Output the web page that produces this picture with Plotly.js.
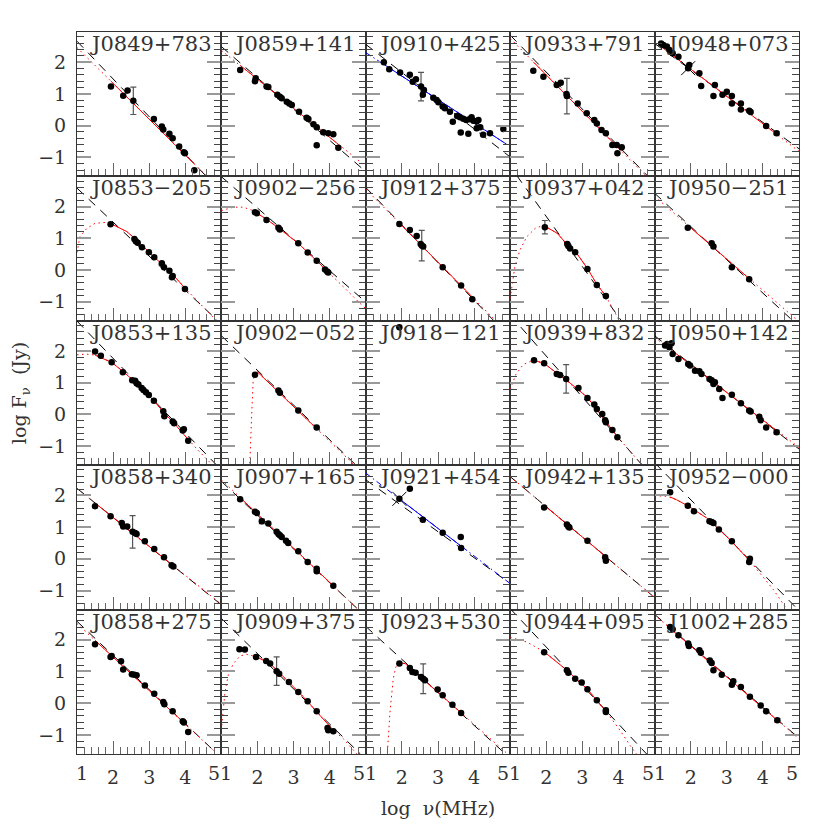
<!DOCTYPE html>
<html>
<head>
<meta charset="utf-8">
<script src="https://cdn.plot.ly/plotly-3.0.1.min.js"></script>
<style>
body{margin:0;background:#fff}
#chart{width:830px;height:830px}
</style>
</head>
<body>
<div id="chart"></div>
<script>
// panel names, row by row
var names = ["J0849+783","J0859+141","J0910+425","J0933+791","J0948+073",
  "J0853\u2212205","J0902\u2212256","J0912+375","J0937+042","J0950\u2212251",
  "J0853+135","J0902\u2212052","J0918\u2212121","J0939+832","J0950+142",
  "J0858+340","J0907+165","J0921+454","J0942+135","J0952\u2212000",
  "J0858+275","J0909+375","J0923+530","J0944+095","J1002+285"];

// measured points, log nu (MHz) and log F (Jy)
var ptX = [
  [1.94,2.28,2.40,2.56,3.13,3.35,3.39,3.56,3.65,3.83,3.96,3.99,4.25],
  [1.52,1.93,1.95,2.25,2.30,2.55,2.62,2.67,2.81,2.88,2.95,3.15,3.36,3.41,3.55,3.64,3.64,3.82,3.96,4.10,4.24],
  [1.50,1.65,1.95,2.22,2.30,2.39,2.53,2.61,2.58,2.87,2.96,3.01,3.13,3.19,3.33,3.41,3.53,3.61,3.70,3.78,3.87,3.93,3.98,4.07,4.12,4.07,3.63,3.84,4.25,4.44,4.81,4.17],
  [1.64,1.92,2.29,2.40,2.57,2.56,2.87,3.12,3.33,3.40,3.53,3.65,3.83,3.95,4.09,3.97],
  [1.18,1.24,1.34,1.41,1.50,1.66,1.93,1.96,2.24,2.29,2.67,2.63,2.88,3.00,3.14,3.14,3.39,3.39,3.62,3.66,4.09,4.38],
  [1.93,2.59,2.63,2.68,2.80,2.99,3.14,3.35,3.41,3.56,3.65,3.63,3.99],
  [1.93,1.98,2.25,2.58,2.62,3.13,3.39,3.64,3.87,3.93,3.96],
  [1.93,2.22,2.41,2.52,2.59,2.55,3.13,3.64,3.95],
  [1.96,2.58,2.61,2.66,2.80,3.14,3.40,3.65],
  [1.92,2.58,2.63,3.14,3.62],
  [1.50,1.66,1.96,2.27,2.53,2.61,2.65,2.70,2.79,2.84,2.91,2.99,3.13,3.39,3.42,3.65,3.69,3.93,3.96,4.08],
  [1.93,2.58,2.62,3.13,3.64],
  [1.93],
  [1.66,1.94,2.29,2.38,2.55,2.89,3.14,3.33,3.40,3.55,3.63,3.65,3.83,3.97],
  [1.29,1.35,1.47,1.41,1.50,1.66,1.93,1.98,2.12,2.24,2.30,2.52,2.58,2.63,2.67,2.79,2.88,3.14,3.39,3.62,3.66,3.90,3.94,4.09,4.38],
  [1.50,1.93,2.24,2.28,2.39,2.54,2.61,2.65,2.88,3.14,3.41,3.62,3.67],
  [1.52,1.93,1.98,2.12,2.30,2.53,2.58,2.62,2.67,2.79,2.85,3.13,3.39,3.64,3.64,4.10],
  [1.93,2.22,2.58,3.13,3.63,3.64],
  [1.94,2.57,2.61,2.64,3.14,3.63,3.65],
  [1.43,1.92,2.09,2.52,2.58,2.63,2.78,3.14,3.64,3.62],
  [1.50,1.93,1.96,2.22,2.28,2.52,2.59,2.65,2.88,3.14,3.39,3.42,3.65,3.93,3.96,4.08],
  [1.50,1.65,1.96,2.24,2.35,2.53,2.60,2.87,3.13,3.39,3.64,3.94,3.96,4.10],
  [1.93,2.22,2.29,2.38,2.53,2.59,2.64,2.99,3.13,3.40,3.64],
  [1.94,2.57,2.61,2.80,2.98,3.14,3.40,3.65,3.65],
  [1.43,1.50,1.66,1.93,1.95,2.24,2.28,2.53,2.58,2.63,2.86,3.14,3.18,3.39,3.64,3.94,4.09,4.40]
];
var ptY = [
  [1.23,0.94,1.11,0.78,0.21,-0.03,-0.12,-0.26,-0.40,-0.66,-0.84,-0.87,-1.41],
  [1.75,1.40,1.49,1.23,1.22,0.97,0.91,0.86,0.75,0.70,0.65,0.44,0.25,0.21,0.04,-0.05,-0.62,-0.21,-0.24,-0.27,-0.70],
  [2.00,1.78,1.67,1.60,1.38,1.46,1.23,1.12,0.97,0.88,0.81,0.74,0.60,0.55,0.44,0.12,0.30,0.26,0.22,0.18,0.20,0.26,0.15,0.13,0.18,-0.08,-0.22,-0.26,-0.29,-0.24,-0.11,-0.05],
  [1.73,1.54,1.28,1.35,0.93,1.00,0.70,0.39,0.18,0.07,-0.14,-0.24,-0.61,-0.61,-0.68,-0.87],
  [2.59,2.54,2.49,2.38,2.28,2.17,1.81,1.91,1.65,1.25,1.28,0.93,0.97,1.07,0.93,0.70,0.70,0.51,0.47,0.43,-0.01,-0.24],
  [1.44,0.98,0.91,0.86,0.72,0.56,0.40,0.21,0.09,-0.02,-0.19,-0.23,-0.60],
  [1.82,1.79,1.58,1.33,1.28,0.84,0.55,0.29,0.02,-0.05,-0.08],
  [1.45,1.26,1.07,0.82,0.74,0.77,0.09,-0.49,-0.92],
  [1.35,0.82,0.76,0.68,0.56,0.03,-0.47,-0.82],
  [1.33,0.84,0.74,0.09,-0.29],
  [1.98,1.85,1.64,1.33,1.08,1.06,0.98,0.94,0.83,0.77,0.70,0.61,0.43,0.10,-0.06,-0.22,-0.28,-0.51,-0.47,-0.83],
  [1.25,0.75,0.68,0.12,-0.41],
  [2.75],
  [1.71,1.61,1.27,1.24,1.12,0.83,0.52,0.31,0.17,0.01,-0.18,-0.25,-0.49,-0.72],
  [2.17,2.22,2.24,2.12,1.90,1.75,1.59,1.54,1.38,1.36,1.27,1.12,1.08,0.96,1.01,0.80,0.52,0.62,0.35,0.12,0.09,-0.07,-0.18,-0.41,-0.56],
  [1.66,1.34,1.13,1.02,1.02,0.85,0.81,0.78,0.55,0.31,0.05,-0.20,-0.24],
  [1.88,1.48,1.44,1.18,1.11,0.85,0.78,0.74,0.69,0.57,0.50,0.24,-0.10,-0.31,-0.39,-0.85],
  [1.89,2.21,1.23,0.82,0.69,0.34],
  [1.62,1.08,1.02,0.99,0.57,0.05,-0.06],
  [2.10,1.67,1.50,1.18,1.16,1.13,0.92,0.55,0.00,-0.10],
  [1.86,1.46,1.49,1.32,1.06,0.91,0.90,0.88,0.56,0.30,0.04,-0.03,-0.25,-0.57,-0.61,-0.91],
  [1.70,1.69,1.46,1.33,1.25,1.01,0.93,0.67,0.35,0.06,-0.25,-0.78,-0.85,-0.88],
  [1.25,1.11,0.98,0.96,0.83,0.77,0.72,0.43,0.25,-0.05,-0.31],
  [1.61,1.04,0.96,0.77,0.65,0.44,0.09,-0.22,-0.28],
  [2.40,2.33,2.14,1.88,1.80,1.67,1.59,1.35,1.27,1.04,0.90,0.58,0.69,0.51,0.20,-0.07,-0.25,-0.54]
];

// error bars: which point, and its half-size
var errIdx = [[3],[],[6],[4],[20,21],[],[],[5],[0],[],[],[],[],[4],[24],[5],[3],[],[],[],[],[5],[5],[],[17]];
var errVal = [[0.43],[],[0.45],[0.56],[0.04,0.05],[],[],[0.48],[0.21],[],[],[],[],[0.45],[0.06],[0.51],[0.07],[],[],[],[],[0.45],[0.47],[],[0.05]];

// points drawn with a cross
var crossX = [[],[],[],[],[1.93],[],[],[],[],[],[],[],[],[],[],[],[],[1.93],[],[],[],[],[],[],[]];
var crossY = [[],[],[],[],[1.81],[],[],[],[],[],[],[],[],[],[],[],[],[1.89],[],[],[],[],[],[],[]];

// straight power law (black dashed)
var dashX = [[1,4.6],[1,5],[1,5],[1,4.86],[1,5],[1,4.9],[1,5],[1,4.55],[1.18,4.08],[1,4.85],
  [1,4.87],[1,4.75],[],[1,4.65],[1,5],[1,5],[1,4.85],[1,5],[1,5],[1,4.98],
  [1,4.85],[1,4.85],[1,4.85],[1,4.78],[1,5]];
var dashY = [[2.66,-1.62],[2.49,-1.45],[2.56,-0.99],[2.85,-1.65],[2.59,-0.73],[2.58,-1.60],[2.94,-1.01],[2.60,-1.60],[2.98,-1.60],[2.42,-1.62],
  [2.94,-1.60],[2.48,-1.62],[],[3.13,-1.59],[2.48,-1.09],[2.22,-1.45],[2.44,-1.66],[2.49,-0.78],[2.59,-1.22],[3.03,-1.61],
  [2.58,-1.56],[2.67,-1.60],[2.42,-1.58],[2.98,-1.60],[2.80,-1.10]];

// fitted spectrum, whole extent (drawn dotted)
var fitX = [
  [1,4.6],[1,5],[1,5],[1,4.75],[1,5],
  [1.0,1.02,1.08,1.27,1.50,1.78,2.01,2.38,2.65,3.11,3.58,3.99,4.32,4.73,4.85],
  [1.0,1.33,1.61,1.88,2.25,2.60,3.13,3.64,3.96,4.38,4.84,5.0],
  [1,4.6],
  [1.0,1.04,1.13,1.27,1.46,1.69,1.87,1.96,2.30,2.66,2.84,3.14,3.40,3.65,3.95,4.04],
  [1,4.92],
  [1.0,1.27,1.50,1.96,2.27,2.65,3.13,3.39,3.69,4.08,4.32,4.68,4.76],
  [1.77,1.79,1.84,1.88,1.93,1.98,4.67],
  [],
  [1.0,1.04,1.16,1.36,1.64,1.94,2.29,2.55,3.14,3.67,3.97,4.32,4.60,4.68],
  [1,5],[1,5],[1,4.83],[1,5],[1,5],
  [1.0,1.34,1.61,1.92,2.44,3.09,3.64,3.87,4.29,4.61,4.68],
  [1,4.85],
  [1.01,1.04,1.10,1.19,1.33,1.52,1.70,1.96,2.35,2.80,3.27,3.64,4.10,4.38,4.65,4.75],
  [1.59,1.60,1.67,1.76,1.83,1.93,2.09,4.90],
  [1.0,1.04,1.46,1.94,2.57,3.14,3.65,4.04,4.32,4.46,4.50],
  [1,5]
];
var fitY = [
  [2.46,-1.60],[2.37,-1.28],[2.30,-0.66],[2.75,-1.57],[2.65,-0.81],
  [0.55,0.70,1.05,1.31,1.47,1.50,1.42,1.21,0.95,0.44,-0.05,-0.57,-0.95,-1.42,-1.58],
  [1.87,1.98,1.98,1.87,1.60,1.31,0.84,0.29,-0.06,-0.53,-1.05,-1.22],
  [2.55,-1.60],
  [-0.89,-0.58,0.11,0.63,1.05,1.31,1.39,1.38,1.16,0.70,0.53,0.05,-0.45,-0.82,-1.47,-1.63],
  [2.32,-1.55],
  [1.88,1.90,1.87,1.64,1.36,0.98,0.43,0.08,-0.28,-0.79,-1.09,-1.51,-1.61],
  [-1.70,-1.46,0.01,1.06,1.28,1.36,-1.58],
  [],
  [0.79,0.91,1.27,1.57,1.71,1.61,1.30,1.09,0.54,-0.25,-0.70,-1.16,-1.52,-1.62],
  [2.43,-1.04],[2.21,-1.43],[2.49,-1.64],[2.70,-0.78],[2.59,-1.22],
  [1.99,1.97,1.86,1.67,1.29,0.60,-0.07,-0.39,-0.97,-1.50,-1.61],
  [2.51,-1.56],
  [-0.70,-0.28,0.35,0.88,1.25,1.49,1.54,1.47,1.25,0.74,0.20,-0.27,-0.85,-1.12,-1.48,-1.60],
  [-1.70,-1.54,-0.28,0.77,1.14,1.27,1.25,-1.57],
  [2.08,2.06,1.93,1.62,1.04,0.44,-0.25,-0.85,-1.33,-1.54,-1.60],
  [2.78,-1.12]
];

// fitted spectrum over the measured range (drawn solid)
var solidX = [
  [1.94,4.25],[1.52,4.24],[1.50,4.81],[1.64,4.09],[1.18,4.38],
  [1.93,2.01,2.38,2.65,3.11,3.58,3.99],
  [1.93,2.25,2.60,3.13,3.64,3.96],
  [1.93,3.95],
  [1.96,2.30,2.66,2.84,3.14,3.40,3.65],
  [1.92,3.62],
  [1.50,1.96,2.27,2.65,3.13,3.39,3.69,4.08],
  [1.98,3.64],
  [],
  [1.64,1.94,2.29,2.55,3.14,3.67,3.97],
  [1.29,4.38],[1.50,3.67],[1.52,4.10],[1.93,3.64],[1.94,3.65],
  [1.43,1.61,1.92,2.44,3.09,3.64],
  [1.50,4.08],
  [1.96,2.35,2.80,3.27,3.64,4.10],
  [1.93,2.09,3.64],
  [1.94,2.57,3.14,3.65],
  [1.43,4.40]
];
var solidY = [
  [1.40,-1.21],[1.90,-0.59],[1.93,-0.52],[2.01,-0.81],[2.49,-0.27],
  [1.44,1.42,1.21,0.95,0.44,-0.05,-0.57],
  [1.83,1.60,1.31,0.84,0.29,-0.06],
  [1.48,-0.85],
  [1.38,1.16,0.70,0.53,0.05,-0.45,-0.82],
  [1.41,-0.27],
  [1.87,1.64,1.36,0.98,0.43,0.08,-0.28,-0.79],
  [1.36,-0.45],
  [],
  [1.71,1.61,1.30,1.09,0.54,-0.25,-0.70],
  [2.18,-0.51],[1.76,-0.22],[1.93,-0.85],[1.89,0.40],[1.69,0.07],
  [1.95,1.86,1.67,1.29,0.60,-0.07],
  [1.98,-0.74],
  [1.47,1.25,0.74,0.20,-0.27,-0.85],
  [1.27,1.25,-0.30],
  [1.62,1.04,0.44,-0.25],
  [2.36,-0.54]
];
var fitColor = ["red","red","blue","red","red","red","red","red","red","red",
  "red","red","red","red","red","red","red","blue","red","red",
  "red","red","red","red","red"];

// axis ticks; the end labels 1 and 5 are set beside the panel edges
var xTickVals = [2,3,4];
var xEndVals = [1,5];
var xEndText = ["1","5"];
var yTickVals = [-1,0,1,2];

var serif = "DejaVu Serif";
var traces = [];
var layout = {
  width: 830, height: 830,
  margin: {l: 77, r: 31, t: 32, b: 76},
  paper_bgcolor: "#fff", plot_bgcolor: "#fff",
  showlegend: false,
  annotations: []
};

for (var k = 0; k < 25; k++) {
  var row = Math.floor(k / 5), col = k % 5;
  var s = k === 0 ? "" : String(k + 1);
  var xa = "x" + s, ya = "y" + s;

  if (dashX[k].length) {
    traces.push({x: dashX[k], y: dashY[k], xaxis: xa, yaxis: ya, mode: "lines",
      line: {color: "#000", width: 1, dash: "9px,7px"}, hoverinfo: "skip"});
  }
  if (fitX[k].length) {
    traces.push({x: fitX[k], y: fitY[k], xaxis: xa, yaxis: ya, mode: "lines",
      line: {color: fitColor[k], width: 1, dash: fitColor[k] === "blue" ? "6px,3px,1.5px,3px" : "1.5px,3.5px"}, hoverinfo: "skip"});
    traces.push({x: solidX[k], y: solidY[k], xaxis: xa, yaxis: ya, mode: "lines",
      line: {color: fitColor[k], width: 1}, hoverinfo: "skip"});
  }

  var errs = ptX[k].map(function(){ return NaN; });
  for (var j = 0; j < errIdx[k].length; j++) errs[errIdx[k][j]] = errVal[k][j];
  traces.push({x: ptX[k], y: ptY[k], xaxis: xa, yaxis: ya, mode: "markers",
    marker: {color: "#000", size: 6.5},
    error_y: {type: "data", array: errs, visible: true, color: "#555", thickness: 1.2, width: 3}});

  if (crossX[k].length) {
    traces.push({x: crossX[k], y: crossY[k], xaxis: xa, yaxis: ya, mode: "markers",
      marker: {symbol: "x-thin-open", size: 14, color: "#000", line: {color: "#000", width: 1}}});
  }

  layout["xaxis" + s] = {
    domain: [col / 5, (col + 1) / 5], anchor: ya, range: [1, 5],
    showgrid: false, zeroline: false,
    showline: true, linecolor: "#333", linewidth: 1, mirror: true,
    ticks: "inside", ticklen: 13, tickwidth: 1, tickcolor: "#666",
    tickmode: "array", tickvals: xTickVals,
    minor: {ticks: "inside", ticklen: 7, tickwidth: 1, tickcolor: "#666", dtick: 0.2, tick0: 0},
    showticklabels: row === 4, ticklabelstandoff: 6,
    tickfont: {family: serif, size: 19, color: "#333"}
  };
  layout["yaxis" + s] = {
    domain: [1 - (row + 1) / 5, 1 - row / 5], anchor: xa, range: [-1.6, 2.95],
    showgrid: false, zeroline: false,
    showline: true, linecolor: "#333", linewidth: 1, mirror: "ticks",
    ticks: "inside", ticklen: 14, tickwidth: 2, tickcolor: "#999",
    tickmode: "array", tickvals: yTickVals,
    minor: {ticks: "inside", ticklen: 7, tickwidth: 1, tickcolor: "#444", dtick: 0.2, tick0: 0},
    showticklabels: col === 0, ticklabelstandoff: 6,
    tickfont: {family: serif, size: 19, color: "#333"}
  };

  layout.annotations.push({
    text: names[k], xref: xa + " domain", yref: ya + " domain",
    x: 0.075, y: 1, xanchor: "left", yanchor: "top", yshift: 2, showarrow: false,
    font: {family: serif, size: 21, color: "#333"}
  });

  if (row === 4) {
    layout.annotations.push({
      text: xEndText[0], xref: xa, yref: ya + " domain",
      x: xEndVals[0], y: 0, xanchor: "left", yanchor: "top", yshift: -6, xshift: -3, showarrow: false,
      font: {family: serif, size: 19, color: "#333"}
    });
    layout.annotations.push({
      text: xEndText[1], xref: xa, yref: ya + " domain",
      x: xEndVals[1], y: 0, xanchor: "right", yanchor: "top", yshift: -6, xshift: 1, showarrow: false,
      font: {family: serif, size: 19, color: "#333"}
    });
  }
}

layout.yaxis11.title = {text: "log F<sub>\u03bd</sub>  (Jy)", standoff: 6,
  font: {family: serif, size: 19, color: "#333"}};
layout.xaxis23.title = {text: "log  \u03bd(MHz)", standoff: 14,
  font: {family: serif, size: 19, color: "#333"}};

Plotly.newPlot("chart", traces, layout, {displayModeBar: false, staticPlot: true});
</script>
</body>
</html>
